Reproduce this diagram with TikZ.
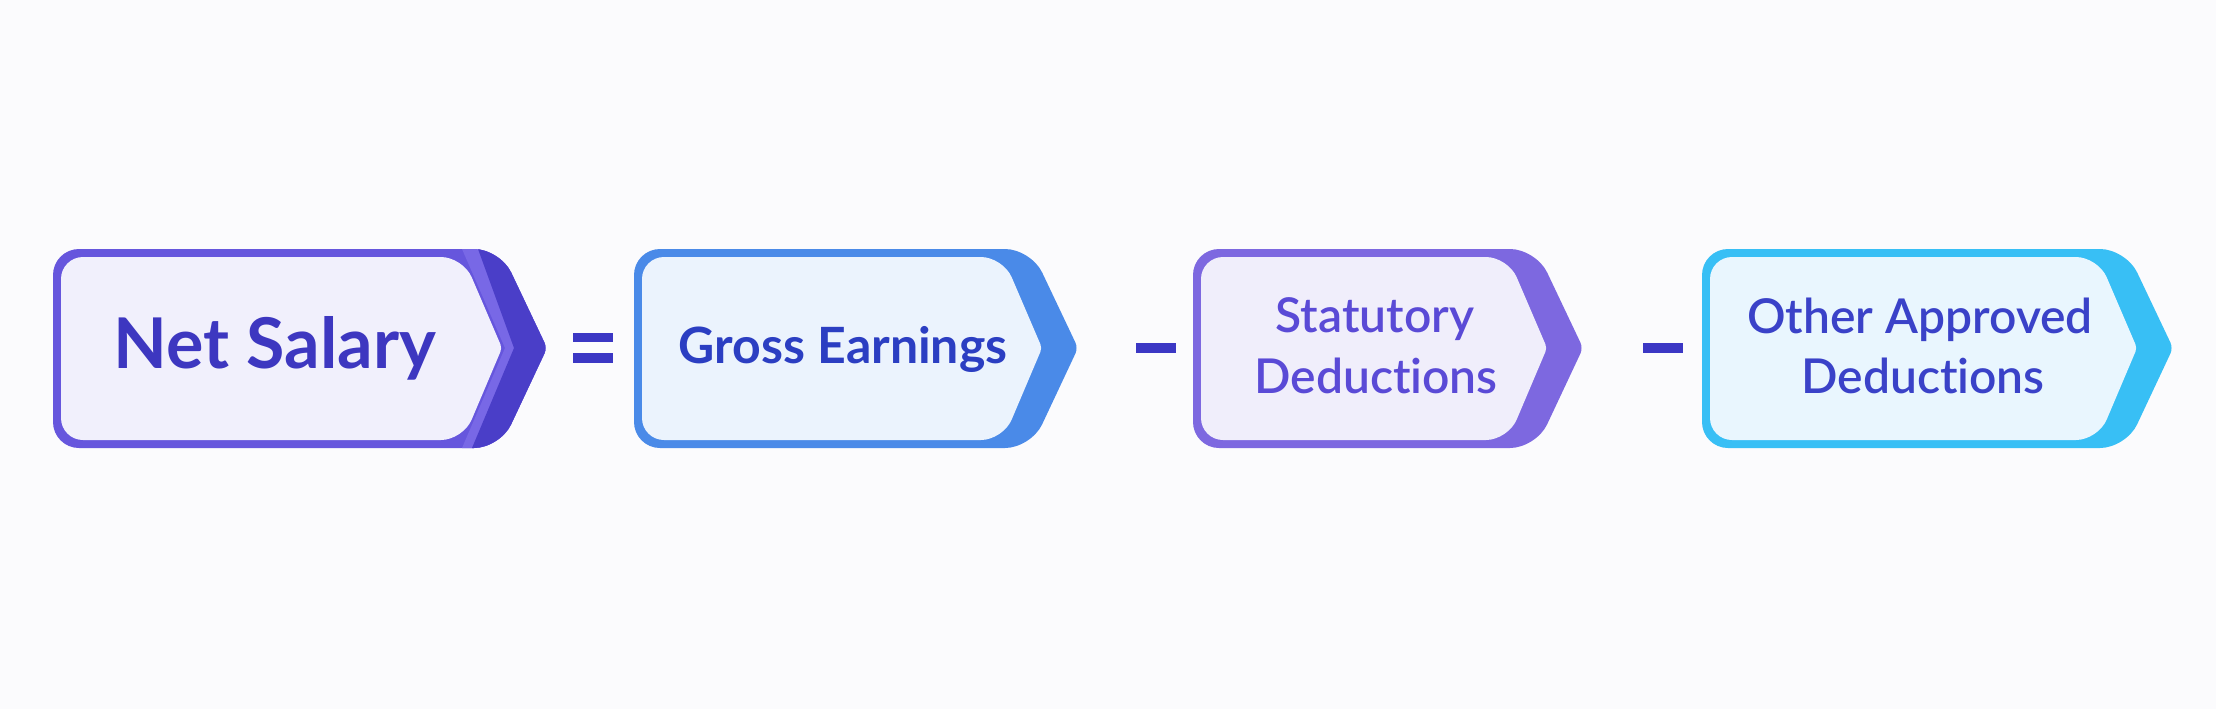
\documentclass[tikz,border=0pt]{standalone}
\usepackage{fontspec}
\setmainfont{Lato}[Ligatures={NoCommon,NoRare,NoContextual}]
\newfontfamily\semib{Lato Semibold}[Ligatures={NoCommon,NoRare,NoContextual}]
\definecolor{bg}{HTML}{FBFBFD}
\definecolor{opc}{HTML}{3B37C4}
\definecolor{bA}{HTML}{6656DD}
\definecolor{bAl}{HTML}{7868E6}
\definecolor{bAd}{HTML}{4A3EC8}
\definecolor{fA}{HTML}{F1F0FC}
\definecolor{tA}{HTML}{3D37C0}
\definecolor{bB}{HTML}{4A8AE8}
\definecolor{fB}{HTML}{EBF3FD}
\definecolor{tB}{HTML}{2B3EC2}
\definecolor{bC}{HTML}{7D68E0}
\definecolor{fC}{HTML}{F0EEFB}
\definecolor{tC}{HTML}{5A4AD6}
\definecolor{bD}{HTML}{38BFF5}
\definecolor{fD}{HTML}{E9F6FE}
\definecolor{tD}{HTML}{3A42C8}
% #1 left x, #2 point x
\newcommand\outershape[2]{(#1,348) -- (#1,249) -- ({#2-47},249) [rounded corners=3pt] -- (#2,348) [rounded corners=13pt] -- ({#2-47},448) -- (#1,448) -- cycle}
\newcommand\innershape[2]{(#1,348) -- (#1,257) -- ({#2-39},257) [rounded corners=2pt] -- (#2,348) [rounded corners=11pt] -- ({#2-39},440) -- (#1,440) -- cycle}
\tikzset{
  opbar/.style={fill=opc, draw=none},
  lbl/.style={inner sep=0pt, anchor=base},
}
\begin{document}
\begin{tikzpicture}[x=0.5pt,y=-0.5pt]
\fill[bg] (0,0) rectangle (2216,709);
\useasboundingbox (0,0) rectangle (2216,709);

% Box 1: Net Salary
\fill[bA, rounded corners=13pt] \outershape{53}{547};
\begin{scope}
  \clip[rounded corners=13pt] \outershape{53}{547};
  \fill[bAl] (462,249) -- (505,348) -- (462,448) -- (600,448) -- (600,249) -- cycle;
  \fill[bAd] (478,249) -- (514,348) -- (472,448) -- (600,448) -- (600,249) -- cycle;
\end{scope}
\fill[fA, rounded corners=11pt] \innershape{61}{502};

% Box 2: Gross Earnings
\fill[bB, rounded corners=13pt] \outershape{634}{1078};
\fill[fB, rounded corners=11pt] \innershape{642}{1042};

% Box 3: Statutory Deductions
\fill[bC, rounded corners=13pt] \outershape{1193}{1583};
\fill[fC, rounded corners=11pt] \innershape{1201}{1547};

% Box 4: Other Approved Deductions
\fill[bD, rounded corners=13pt] \outershape{1702}{2173};
\fill[fD, rounded corners=11pt] \innershape{1710}{2137};

% Texts
\node[lbl, text=tA, font=\fontsize{35pt}{40pt}\selectfont\bfseries] (net) at (275,368) {Net Salary};
\node[lbl, text=tB, font=\fontsize{25pt}{30pt}\selectfont\bfseries] (gross) at (843,363) {Gross Earnings};
\node[lbl, text=tC, font=\fontsize{24pt}{30pt}\selectfont\semib] (stat1) at (1375,332) {Statutory};
\node[lbl, text=tC, font=\fontsize{24pt}{30pt}\selectfont\semib] (stat2) at (1376,393) {Deductions};
\node[lbl, text=tD, font=\fontsize{24pt}{30pt}\selectfont\semib] (oth1) at (1920,333) {Other Approved};
\node[lbl, text=tD, font=\fontsize{24pt}{30pt}\selectfont\semib] (oth2) at (1923,393) {Deductions};

% Operators
\fill[opbar] (573,333) rectangle (613,342);
\fill[opbar] (573,353) rectangle (613,363);
\fill[opbar] (1136,343) rectangle (1176,353);
\fill[opbar] (1643,343) rectangle (1683,353);
\end{tikzpicture}
\end{document}
